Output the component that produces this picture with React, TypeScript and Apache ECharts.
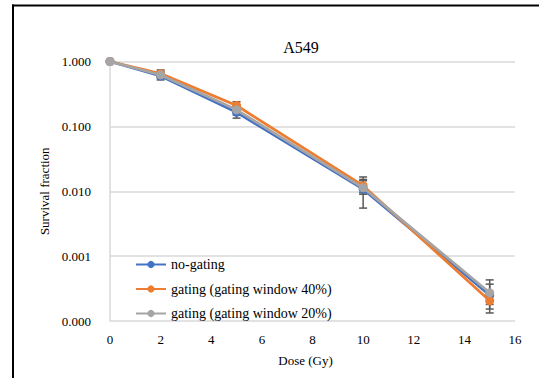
import React, { useEffect, useRef } from "react";
import * as echarts from "echarts";

// Dose points (Gy)
const doses = [0, 2, 5, 10, 15];

// Survival fractions per irradiation scheme
const noGating = [1, 0.6, 0.165, 0.0108, 0.00025];
const gating40 = [1, 0.65, 0.21, 0.0122, 0.000205];
const gating20 = [1, 0.62, 0.18, 0.0113, 0.000272];

// Error bar bounds (low / high) per scheme
const noGatingLow = [1, 0.52, 0.134, 0.0055, 0.000133];
const noGatingHigh = [1, 0.7, 0.2, 0.0166, 0.00043];
const gating40Low = [1, 0.58, 0.17, 0.0095, 0.000153];
const gating40High = [1, 0.74, 0.24, 0.0152, 0.00028];
const gating20Low = [1, 0.56, 0.15, 0.009, 0.00018];
const gating20High = [1, 0.68, 0.21, 0.0145, 0.00037];

const seriesNames = [
  "no-gating",
  "gating (gating window 40%)",
  "gating (gating window 20%)",
];
const colors = ["#4472C4", "#ED7D31", "#A5A5A5"];

const serif = "Liberation Serif";

function errorSeries(low: number[], high: number[]) {
  return {
    type: "custom",
    silent: true,
    z: 1,
    data: doses.map((d, i) => [d, low[i], high[i]]),
    renderItem: (params: any, api: any) => {
      const x = api.value(0);
      const lo = api.value(1);
      const hi = api.value(2);
      const pLo = api.coord([x, lo]);
      const pHi = api.coord([x, hi]);
      const w = 4;
      const style = { stroke: "#595959", lineWidth: 1.5 };
      return {
        type: "group",
        children: [
          { type: "line", shape: { x1: pLo[0], y1: pLo[1], x2: pHi[0], y2: pHi[1] }, style },
          { type: "line", shape: { x1: pLo[0] - w, y1: pLo[1], x2: pLo[0] + w, y2: pLo[1] }, style },
          { type: "line", shape: { x1: pHi[0] - w, y1: pHi[1], x2: pHi[0] + w, y2: pHi[1] }, style },
        ],
      };
    },
  };
}

function lineSeries(name: string, values: number[], color: string, z: number) {
  return {
    name,
    type: "line",
    z,
    data: doses.map((d, i) => [d, values[i]]),
    symbol: "circle",
    symbolSize: 9,
    itemStyle: { color },
    lineStyle: { color, width: 2.75 },
  };
}

export default function App() {
  const ref = useRef<HTMLDivElement>(null);

  useEffect(() => {
    if (!ref.current) return;
    const chart = echarts.init(ref.current, undefined, { renderer: "svg" });
    chart.setOption({
      animation: false,
      backgroundColor: "#ffffff",
      textStyle: { fontFamily: serif },
      title: {
        text: "A549",
        left: 296,
        top: 34,
        textAlign: "center",
        textStyle: { fontFamily: serif, fontSize: 16, fontWeight: "normal", color: "#000000" },
      },
      grid: { left: 110, right: 24, top: 61.5, bottom: 57 },
      xAxis: {
        type: "value",
        min: 0,
        max: 16,
        interval: 2,
        name: "Dose (Gy)",
        nameLocation: "middle",
        nameGap: 33,
        nameTextStyle: { fontFamily: serif, fontSize: 13, color: "#000000", padding: [0, 14, 0, 0] },
        axisLine: { show: false },
        axisTick: { show: false },
        splitLine: { show: false },
        axisLabel: { fontFamily: serif, fontSize: 13, color: "#000000", margin: 12 },
      },
      yAxis: {
        type: "log",
        logBase: 10,
        min: 0.0001,
        max: 1,
        name: "Survival fraction",
        nameLocation: "middle",
        nameGap: 51,
        nameTextStyle: { fontFamily: serif, fontSize: 13, color: "#000000" },
        axisLine: { show: true, lineStyle: { color: "#d9d9d9", width: 1.5 } },
        axisTick: { show: false },
        splitLine: { show: true, lineStyle: { color: "#d9d9d9", width: 1.5 } },
        axisLabel: {
          fontFamily: serif,
          fontSize: 13,
          color: "#000000",
          margin: 19,
          formatter: (v: number) => v.toFixed(3),
        },
      },
      legend: {
        orient: "vertical",
        left: 135,
        top: 257.5,
        padding: 0,
        itemGap: 10.5,
        itemWidth: 30,
        itemHeight: 9,
        data: seriesNames,
        textStyle: { fontFamily: serif, fontSize: 14, color: "#000000" },
      },
      graphic: [
        { type: "rect", shape: { x: 12, y: 4.5, width: 527, height: 2 }, style: { fill: "#000" } },
        { type: "rect", shape: { x: 12, y: 4.5, width: 2, height: 374 }, style: { fill: "#000" } },
      ],
      series: [
        errorSeries(noGatingLow, noGatingHigh),
        errorSeries(gating40Low, gating40High),
        errorSeries(gating20Low, gating20High),
        lineSeries(seriesNames[0], noGating, colors[0], 2),
        lineSeries(seriesNames[1], gating40, colors[1], 3),
        lineSeries(seriesNames[2], gating20, colors[2], 4),
      ],
    });
    return () => chart.dispose();
  }, []);

  return (
    <div
      ref={ref}
      style={{ position: "absolute", left: 0, top: 0, width: 539, height: 378 }}
    />
  );
}
